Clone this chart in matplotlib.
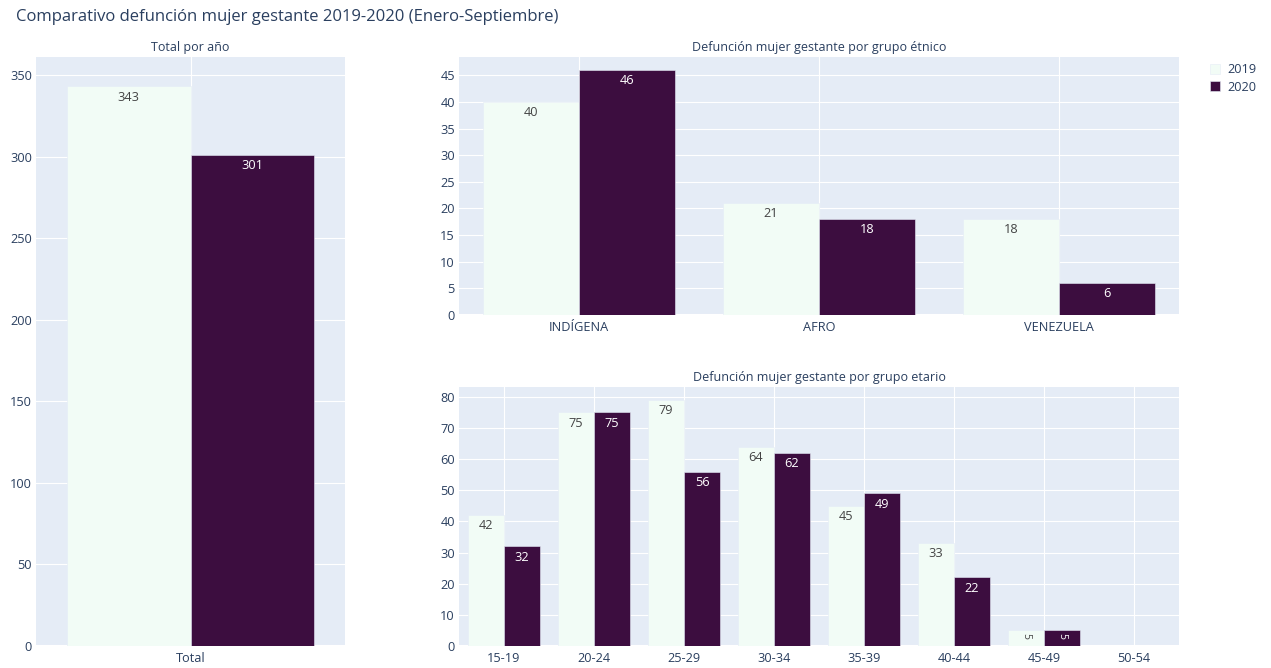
import matplotlib
matplotlib.use("Agg")
import matplotlib.pyplot as plt
from matplotlib.lines import Line2D
import numpy as np

plt.rcParams['font.family'] = ['Open Sans', 'DejaVu Sans']

# Datos
years = ["2019", "2020"]
colors = ["#f2fcf6", "#3c0d3f"]
text_colors = ["#444444", "#ffffff"]

total_cats = ["Total"]
total_2019 = [343]
total_2020 = [301]

etnia_cats = ["INDÍGENA", "AFRO", "VENEZUELA"]
etnia_2019 = [40, 21, 18]
etnia_2020 = [46, 18, 6]

edad_cats = ["15-19", "20-24", "25-29", "30-34", "35-39", "40-44", "45-49", "50-54"]
edad_2019 = [42, 75, 79, 64, 45, 33, 5, None]
edad_2020 = [32, 75, 56, 62, 49, 22, 5, None]

W, H = 1271, 668
fig = plt.figure(figsize=(W / 100, H / 100), dpi=100)
fig.patch.set_facecolor("white")

BG = "#e5ecf6"
FONT = "#2a3f5f"


def px_box(x0, x1, y0, y1):
    return [x0 / W, 1 - y1 / H, (x1 - x0) / W, (y1 - y0) / H]


def grouped_bars(ax, cats, s19, s20, ystep, title, title_y):
    n = len(cats)
    top = max(v for v in s19 + s20 if v is not None) / 0.95
    ax.set_facecolor(BG)
    for s in ax.spines.values():
        s.set_visible(False)
    ax.set_xlim(-0.5, n - 0.5)
    ax.set_ylim(0, top)
    ax.set_xticks(range(n))
    ax.set_xticklabels(cats)
    ax.set_yticks(np.arange(0, top, ystep))
    ax.tick_params(length=0, colors=FONT, labelsize=9.2)
    ax.tick_params(axis="y", pad=3)
    ax.tick_params(axis="x", pad=4)
    ax.grid(True, color="white", linewidth=0.8)
    ax.set_axisbelow(True)
    ax.axhline(0, color="white", linewidth=1.5, zorder=1)

    for k, series in enumerate([s19, s20]):
        off = -0.2 if k == 0 else 0.2
        for i, v in enumerate(series):
            if v is None:
                continue
            ax.bar(i + off, v, width=0.4, color=colors[k],
                   edgecolor=BG, linewidth=0.4, zorder=2)
            if v / top < 0.08:
                ax.annotate(str(v), (i + off, v), xytext=(0, -2),
                            textcoords="offset points", ha="center", va="top",
                            rotation=-90, fontsize=7.5, color=text_colors[k], zorder=3)
            else:
                ax.annotate(str(v), (i + off, v), xytext=(0, -3),
                            textcoords="offset points", ha="center", va="top",
                            fontsize=9.2, color=text_colors[k], zorder=3)

    b = ax.get_position()
    fig.text(b.x0 + b.width / 2, 1 - title_y / H, title, ha="center", va="center",
             fontsize=9, color=FONT)


ax1 = fig.add_axes(px_box(36, 345, 57, 646))
grouped_bars(ax1, total_cats, total_2019, total_2020, 50, "Total por año", 47)

ax2 = fig.add_axes(px_box(459, 1179, 57, 315))
grouped_bars(ax2, etnia_cats, etnia_2019, etnia_2020, 5,
             "Defunción mujer gestante por grupo étnico", 47)

ax3 = fig.add_axes(px_box(459, 1179, 387, 646))
grouped_bars(ax3, edad_cats, edad_2019, edad_2020, 10,
             "Defunción mujer gestante por grupo etario", 378)

fig.text(16 / W, 1 - 17 / H,
         "Comparativo defunción mujer gestante 2019-2020 (Enero-Septiembre)",
         ha="left", va="center", fontsize=12, color=FONT)

handles = [Line2D([], [], marker="s", linestyle="none", markersize=7,
                  markerfacecolor=c, markeredgecolor=BG, markeredgewidth=0.4)
           for c in colors]
fig.legend(handles, years, loc="upper left", bbox_to_anchor=(1203 / W, 1 - 58 / H),
           frameon=False, fontsize=9.2, handlelength=1.0, handletextpad=0.5,
           labelspacing=0.35, labelcolor=FONT, borderaxespad=0)

fig.savefig("out.png", dpi=100)
